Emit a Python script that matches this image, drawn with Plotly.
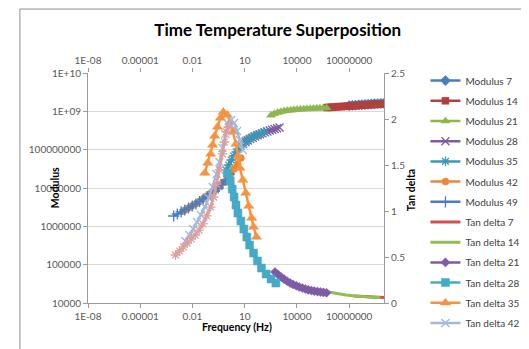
import plotly.graph_objects as go

# ---------------- data ----------------
x_tickvals = [1e-8, 1e-5, 1e-2, 10, 1e4, 1e7]
x_ticktext = ["1E-08", "0.00001", "0.01", "10", "10000", "10000000"]
y_tickvals = [1e4, 1e5, 1e6, 1e7, 1e8, 1e9, 1e10]
y_ticktext = ["10000", "100000", "1000000", "10000000", "100000000", "1E+09", "1E+10"]

freq_mod7 = [1.00e7, 1.51e7, 2.29e7, 3.55e7, 5.37e7, 8.13e7, 1.23e8, 1.86e8, 2.82e8, 4.37e8, 6.61e8, 1.00e9]
mod7 = [1.41e9, 1.43e9, 1.45e9, 1.47e9, 1.49e9, 1.51e9, 1.53e9, 1.55e9, 1.57e9, 1.59e9, 1.61e9, 1.63e9]

freq_mod14 = [5.25e5, 7.76e5, 1.12e6, 1.66e6, 2.45e6, 3.55e6, 5.25e6, 7.76e6, 1.12e7, 1.66e7,
              2.45e7, 3.63e7, 5.25e7, 7.76e7, 1.15e8, 1.66e8, 2.45e8, 3.63e8, 5.25e8, 7.76e8]
mod14 = [1.259e9, 1.274e9, 1.288e9, 1.303e9, 1.318e9, 1.334e9, 1.349e9, 1.365e9, 1.380e9, 1.396e9,
         1.413e9, 1.429e9, 1.445e9, 1.462e9, 1.479e9, 1.496e9, 1.514e9, 1.528e9, 1.542e9, 1.556e9]

freq_mod21 = [324, 501, 776, 1175, 1820, 2818, 4365, 6607, 10230, 15850, 24550, 37150,
              57540, 89130, 138000, 208900, 323600, 501200]
mod21 = [7.94e8, 8.71e8, 9.33e8, 9.77e8, 1.023e9, 1.047e9, 1.072e9, 1.096e9, 1.122e9, 1.135e9,
         1.148e9, 1.161e9, 1.175e9, 1.189e9, 1.202e9, 1.211e9, 1.219e9, 1.230e9]

freq_mod28 = [7.94, 11.0, 15.1, 20.9, 28.8, 39.8, 55.0, 75.9, 105, 145, 200, 275, 380, 525, 724, 1000]
mod28 = [1.41e8, 1.58e8, 1.74e8, 1.91e8, 2.04e8, 2.21e8, 2.37e8, 2.51e8, 2.66e8, 2.82e8,
         2.99e8, 3.16e8, 3.31e8, 3.47e8, 3.63e8, 3.80e8]

freq_mod35 = [0.871, 1.20, 1.70, 2.34, 3.31, 4.57, 6.31, 8.91, 12.3, 17.4, 24.0, 33.1, 46.8, 64.6, 91.2, 126]
mod35 = [2.94e7, 3.98e7, 5.37e7, 6.84e7, 8.69e7, 1.04e8, 1.25e8, 1.45e8, 1.68e8, 1.90e8,
         2.07e8, 2.27e8, 2.41e8, 2.56e8, 2.72e8, 2.89e8]

freq_mod42 = [0.00302, 0.00468, 0.00741, 0.0115, 0.0182, 0.0282, 0.0437, 0.0692, 0.107, 0.170,
              0.263, 0.407, 0.646, 1.00, 1.58, 2.45, 3.89, 6.03]
mod42 = [2.51e6, 2.83e6, 3.19e6, 3.60e6, 4.06e6, 4.58e6, 5.32e6, 6.18e6, 7.18e6, 8.36e6,
         1.00e7, 1.20e7, 1.43e7, 1.82e7, 2.32e7, 3.13e7, 4.23e7, 6.05e7]

freq_mod49 = [0.000832, 0.00135, 0.00224, 0.00363, 0.00589, 0.00977, 0.0158, 0.0257, 0.0417, 0.0692,
              0.112, 0.182, 0.302, 0.490, 0.794, 1.29]
mod49 = [1.86e6, 2.10e6, 2.37e6, 2.67e6, 3.01e6, 3.39e6, 3.82e6, 4.45e6, 5.16e6, 6.00e6,
         6.97e6, 8.36e6, 1.00e7, 1.23e7, 1.62e7, 2.32e7]

freq_td7 = [1.86e7, 4.57e7, 1.29e8, 3.55e8, 1.0e9]
td7 = [0.076, 0.071, 0.065, 0.062, 0.060]

freq_td14 = [6.46e5, 1.82e6, 6.61e6, 2.40e7, 8.71e7, 3.16e8, 6.03e8]
td14 = [0.120, 0.103, 0.087, 0.076, 0.065, 0.060, 0.060]

freq_td21 = [550, 813, 1230, 1820, 2750, 4070, 6030, 9120, 13500, 20400, 30200, 44700,
             67600, 100000, 151000, 224000, 331000, 501000]
td21 = [0.337, 0.310, 0.283, 0.259, 0.237, 0.217, 0.201, 0.187, 0.174, 0.163, 0.152, 0.143,
        0.136, 0.129, 0.124, 0.120, 0.115, 0.111]

freq_td28 = [1.00, 1.48, 1.91, 2.45, 3.16, 4.07, 6.03, 8.91, 13.2, 19.1, 32.4, 53.7, 91.2, 170, 324, 617]
td28 = [1.413, 1.326, 1.239, 1.152, 1.065, 0.978, 0.891, 0.804, 0.717, 0.630, 0.543, 0.457,
        0.380, 0.315, 0.261, 0.217]

freq_td35 = [0.0514, 0.0757, 0.111, 0.144, 0.187, 0.274, 0.404, 0.594, 0.995, 1.47, 2.15, 3.17,
             4.10, 5.31, 7.82, 11.5, 16.9, 24.9, 32.2, 47.4]
td35 = [1.413, 1.522, 1.620, 1.717, 1.815, 1.913, 2.011, 2.076, 2.043, 1.967, 1.859, 1.728,
        1.598, 1.467, 1.337, 1.196, 1.054, 0.924, 0.826, 0.717]

freq_td42 = [0.00389, 0.00661, 0.0110, 0.0182, 0.0309, 0.0513, 0.0871, 0.145, 0.240, 0.355,
             0.525, 0.776, 1.12, 1.66, 2.45, 3.63, 5.25, 7.76]
td42 = [0.674, 0.739, 0.804, 0.880, 0.957, 1.043, 1.141, 1.261, 1.402, 1.533, 1.685, 1.837,
        1.946, 1.989, 1.957, 1.870, 1.772, 1.663]

freq_td49 = [0.00107, 0.00182, 0.00302, 0.00501, 0.00851, 0.0141, 0.0240, 0.0398, 0.0661, 0.112,
             0.162, 0.240, 0.355, 0.525, 0.676, 0.871, 1.12]
td49 = [0.522, 0.565, 0.609, 0.652, 0.696, 0.739, 0.793, 0.859, 0.946, 1.043, 1.152, 1.293,
        1.446, 1.620, 1.750, 1.859, 1.913]

# ---------------- figure ----------------
FONT = "Lato"
fig = go.Figure()


def add(name, x, y, color, symbol, secondary, size=7, lw=2.5, show=True, thin=False):
    if symbol is None:
        mode = "lines"
        marker = None
    else:
        mode = "lines+markers"
        if thin:
            marker = dict(symbol=symbol, size=size, color=color, line=dict(color=color, width=1.3))
        else:
            marker = dict(symbol=symbol, size=size, color=color, line=dict(color=color, width=0.5))
    fig.add_trace(go.Scatter(
        x=x, y=y, name=name, mode=mode, marker=marker,
        line=dict(color=color, width=lw),
        xaxis="x2" if secondary else "x", yaxis="y2" if secondary else "y",
        showlegend=show, legendgroup=name,
    ))


add("Modulus 7", freq_mod7, mod7, "#4A7EBB", "diamond", False, size=8)
add("Modulus 14", freq_mod14, mod14, "#B0413E", "square", False, size=7)
add("Modulus 21", freq_mod21, mod21, "#8FB64C", "triangle-up", False, size=8)
add("Modulus 28", freq_mod28, mod28, "#7B5CA0", "x-thin-open", False, size=8, thin=True)
add("Modulus 35", freq_mod35, mod35, "#3C98B0", "asterisk-open", False, size=8, thin=True)
add("Modulus 42", freq_mod42, mod42, "#EC8734", "circle", False, size=7)
add("Modulus 49", freq_mod49, mod49, "#4A7EC0", "cross-thin-open", False, size=8, thin=True)
add("Tan delta 7", freq_td7, td7, "#D2504C", None, True, lw=3)
add("Tan delta 14", freq_td14, td14, "#92BE50", None, True, lw=3)
add("Tan delta 21", freq_td21, td21, "#7E5BA6", "diamond", True, size=7)
add("Tan delta 28", freq_td28, td28, "#45AAC6", "square", True, size=8)
add("Tan delta 35", freq_td35, td35, "#F7923F", "triangle-up", True, size=9)
add("Tan delta 42", freq_td42, td42, "#A3B8DE", "x-thin-open", True, size=8, thin=True)
add("Tan delta 49", freq_td49, td49, "#D9A09E", "asterisk-open", True, size=8, thin=True, show=False)

tickfont = dict(family=FONT, size=10, color="#595959")
axis_common = dict(showgrid=False, zeroline=False, ticks="outside", ticklen=4,
                   tickcolor="#9A9A9A", linecolor="#9A9A9A", tickfont=tickfont)

fig.update_layout(
    width=529, height=349,
    margin=dict(l=80, r=145, t=65, b=54),
    paper_bgcolor="white", plot_bgcolor="white",
    font=dict(family=FONT, color="#404040"),
    title=dict(text="<b>Time Temperature Superposition</b>", x=0.51, xanchor="center",
               y=0.937, yanchor="middle", font=dict(family=FONT, size=17, color="#000000")),
    xaxis=dict(type="log", range=[-8, 9], tickvals=x_tickvals, ticktext=x_ticktext,
               showline=True, anchor="y", **axis_common),
    xaxis2=dict(type="log", range=[-8, 9], tickvals=x_tickvals, ticktext=x_ticktext,
                showline=False, overlaying="x", side="top", anchor="y2", **axis_common),
    yaxis=dict(type="log", range=[4, 10], tickvals=y_tickvals, ticktext=y_ticktext,
               showline=True, anchor="x", **{**axis_common, "showgrid": True},
               gridcolor="#D9D9D9", gridwidth=1),
    yaxis2=dict(range=[0, 2.5], dtick=0.5, tick0=0, overlaying="y", side="right",
                anchor="x2", showline=True, **axis_common),
    legend=dict(x=1.14, y=1.03, xanchor="left", yanchor="top", traceorder="grouped",
                tracegroupgap=1.2, itemwidth=30, bgcolor="rgba(0,0,0,0)", maxheight=340,
                font=dict(family=FONT, size=10, color="#404040")),
    shapes=[dict(type="rect", xref="paper", yref="paper", x0=-0.23, x1=1.52, y0=-0.217, y1=1.278,
                 line=dict(color="#8C8C8C", width=1), fillcolor="rgba(0,0,0,0)", layer="below")],
    annotations=[
        dict(text="<b>Modulus</b>", x=-0.138, y=0.5, xref="paper", yref="paper", showarrow=False,
             textangle=-90, font=dict(family=FONT, size=10.5, color="#000000")),
        dict(text="<b>Tan delta</b>", x=1.118, y=0.49, xref="paper", yref="paper", showarrow=False,
             textangle=-90, font=dict(family=FONT, size=10.5, color="#000000")),
        dict(text="<b>Frequency (Hz)</b>", x=0.503, y=-0.139, xref="paper", yref="paper",
             showarrow=False, font=dict(family=FONT, size=10.5, color="#000000")),
    ],
)

fig.write_html("out.html")
